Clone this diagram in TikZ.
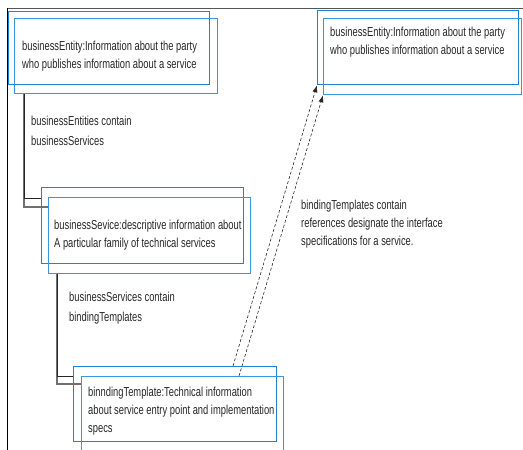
\documentclass[tikz,border=0pt]{standalone}
\usepackage{fontspec}
\setmainfont{Liberation Sans}[FakeStretch=0.72]
\usetikzlibrary{arrows.meta,calc}
\definecolor{boxblue}{HTML}{1F80DA}
\definecolor{boxblueb}{HTML}{3A95E2}
\definecolor{linkgray}{HTML}{707070}
\definecolor{framegray}{HTML}{555555}
\begin{document}
\begin{tikzpicture}[x=1pt,y=-1pt,
 boxa/.style={draw=boxblue, line width=1.3pt, inner sep=0, anchor=north west},
 boxb/.style={draw=boxblueb, line width=1.3pt, inner sep=0, anchor=north west},
 txt/.style={inner sep=0, anchor=west, align=left, text=black!85, font=\fontsize{13}{18}\selectfont},
 lbl/.style={inner sep=0, anchor=west, align=left, text=black!85, font=\fontsize{13}{20}\selectfont},
 link/.style={draw=linkgray, line width=1.6pt},
 linkb/.style={draw=black!85, line width=0.9pt},
 ref/.style={draw=black!85, dash pattern=on 3pt off 2pt, line width=0.6pt, -{Latex[length=7pt,width=5pt]}}
]
\useasboundingbox (0,0) rectangle (523,450);
% frame
\draw[framegray, line width=1pt] (7,8) -- (523,8);
\draw[black, line width=1pt] (7,8) -- (7,450);

% boxes
\node[boxa, minimum width=201pt, minimum height=73pt] (e1a) at (8,11) {};
\node[boxb, minimum width=203pt, minimum height=75pt] (e1b) at (14,18) {};
\node[boxa, minimum width=201pt, minimum height=74pt] (e2a) at (317,10) {};
\node[boxb, minimum width=198pt, minimum height=76pt] (e2b) at (323,18) {};
\node[boxa, minimum width=202pt, minimum height=76pt] (s3a) at (41,187) {};
\node[boxb, minimum width=202pt, minimum height=76pt] (s3b) at (48,197) {};
\node[boxa, minimum width=203pt, minimum height=75pt] (t4a) at (73,366) {};
\node[boxb, minimum width=202pt, minimum height=75pt] (t4b) at (81,376) {};

% texts
\node[txt] (t1) at (22,56) {businessEntity:Information about the party\\who publishes information about a service};
\node[txt] (t2) at (330,42.5) {businessEntity:Information about the party\\who publishes information about a service};
\node[txt] (t3) at (54,235) {businessSevice:descriptive information about\\A particular family of technical services};
\node[txt] (t4) at (88,411) {binndingTemplate:Technical information\\about service entry point  and implementation\\specs};
\node[lbl] (l1) at (31,131) {businessEntities contain\\businessServices};
\node[lbl] (l2) at (69,308) {businessServices contain\\bindingTemplates};
\node[txt] (l3) at (301,224) {bindingTemplates contain\\references designate the interface\\specifications for a service.};

% containment connectors
\draw[link] ([xshift=10pt]e1b.south west) |- ([yshift=-10pt]s3b.north west);
\draw[linkb] ([xshift=10pt]e1b.south west) |- ([yshift=-11pt]s3a.north west);
\draw[link] ([xshift=9pt]s3b.south west) |- ([yshift=-8pt]t4b.north west);
\draw[linkb] ([xshift=9pt]s3b.south west) |- ([yshift=-10pt]t4a.north west);

% reference arrows
\draw[ref] ([xshift=160pt]t4a.north west) -- (e2a.south west);
\draw[ref] ([xshift=158pt]t4b.north west) -- (e2b.south west);
\end{tikzpicture}
\end{document}
